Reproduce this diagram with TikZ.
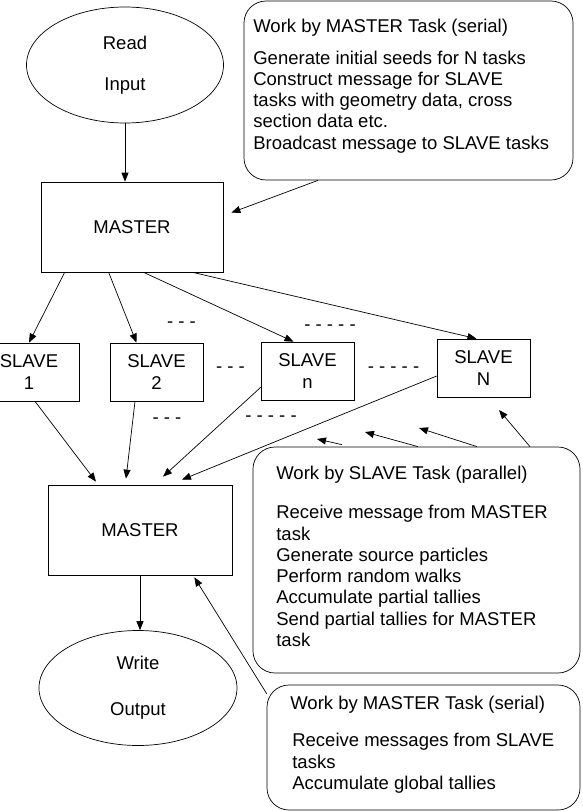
\documentclass[tikz,border=0pt]{standalone}
\usepackage{fontspec}
\setmainfont{Liberation Sans}
\usetikzlibrary{shapes.geometric,arrows.meta,calc}
\tikzset{
  flow io/.style={ellipse, draw, align=center, inner sep=0pt},
  flow task/.style={rectangle, draw, align=center, inner sep=0pt},
  flow note/.style={rectangle, draw, rounded corners=22pt, inner sep=0pt},
  flow notetext/.style={anchor=north west, align=left, inner sep=0pt},
  flow dots/.style={inner sep=0pt},
  flow arrow/.style={-{Triangle[length=9pt,width=7pt]}}
}

\begin{document}
\begin{tikzpicture}[x=1pt, y=-1pt, line width=0.7pt, font={\fontsize{18.5}{21.3}\selectfont}]
    \useasboundingbox (0,0) rectangle (582,811);

    % Input and first MASTER
    \node [flow io, minimum width=197pt, minimum height=116pt] (readin) at (125,65) {Read\\[19.5pt]Input};
    \node [flow task, minimum width=182pt, minimum height=90pt] (master1) at (132,227) {MASTER};
    \draw [flow arrow] (readin.south) -- (readin.south |- master1.north);

    % SLAVE tasks
    \node [flow task, minimum width=100pt, minimum height=58pt] (slave1) at (29,372) {SLAVE\\1};
    \node [flow task, minimum width=93pt, minimum height=58pt] (slave2) at (156.5,372) {SLAVE\\2};
    \node [flow task, minimum width=93pt, minimum height=58pt] (slaven) at (307.5,371) {SLAVE\\n};
    \node [flow task, minimum width=93pt, minimum height=58pt] (slaveN) at (483.5,368) {SLAVE\\N};
    \node [flow dots] (dotsa) at (181.5,325) {- - -};
    \node [flow dots] (dotsb) at (330,328) {- - - - -};
    \node [flow dots] (dotsc) at (230.5,370) {- - -};
    \node [flow dots] (dotsd) at (393.5,370) {- - - - -};
    \node [flow dots] (dotse) at (167,421) {- - -};
    \node [flow dots] (dotsf) at (271,419) {- - - - -};

    \draw [flow arrow] ([xshift=24pt]master1.south west) -- (slave1.north);
    \draw [flow arrow] ([xshift=68pt]master1.south west) -- ([xshift=-20pt]slave2.north);
    \draw [flow arrow] ([xshift=103pt]master1.south west) -- ([xshift=-14pt]slaven.north);
    \draw [flow arrow] ([xshift=152pt]master1.south west) -- ([xshift=-7pt]slaveN.north);

    % Second MASTER and output
    \node [flow task, minimum width=184pt, minimum height=90pt] (master2) at (140,530) {MASTER};
    \node [flow io, minimum width=198pt, minimum height=115pt] (writeout) at (138,688) {Write\\[24.5pt]Output};
    \draw [flow arrow] (master2.south) -- (master2.south |- writeout.north);

    \draw [flow arrow] ([xshift=6pt]slave1.south) -- ([xshift=-44pt,yshift=3pt]master2.north);
    \draw [flow arrow] ([xshift=-21.5pt]slave2.south) -- ([xshift=-14pt,yshift=6pt]master2.north);
    \draw [flow arrow] ([yshift=13pt]slaven.south west) -- ([xshift=23pt,yshift=8pt]master2.north);
    \draw [flow arrow] ([yshift=-8pt]slaveN.west) -- ([xshift=42pt,yshift=5pt]master2.north);

    % Work by MASTER (serial), top
    \node [flow note, minimum width=329pt, minimum height=179pt] (mtop) at (408.5,90.5) {};
    \node [flow notetext] (mtoptext) at (253,19) {Work by MASTER Task (serial)\\[10pt]
        Generate initial seeds for N tasks\\
        Construct message for SLAVE\\
        tasks with geometry data, cross\\
        section data etc.\\
        Broadcast message to SLAVE tasks};
    \draw [flow arrow] ([xshift=-90.5pt]mtop.south) -- ([xshift=8pt,yshift=-31pt]master1.north east);

    % Work by SLAVE (parallel)
    \node [flow note, minimum width=327pt, minimum height=226pt] (stask) at (416.5,560) {};
    \node [flow notetext] (stasktext) at (276,466) {Work by SLAVE Task (parallel)\\[17.7pt]
        Receive message from MASTER\\
        task\\
        Generate source particles\\
        Perform random walks\\
        Accumulate partial tallies\\
        Send partial tallies for MASTER\\
        task};
    \coordinate (sa) at (317,439);
    \coordinate (sb) at (365,432);
    \coordinate (sc) at (419,428);
    \coordinate (sd) at (499,410);
    \draw [flow arrow] ([xshift=-74.5pt,yshift=2pt]stask.north) -- (sa);
    \draw [flow arrow] ([xshift=1.5pt]stask.north) -- (sb);
    \draw [flow arrow] ([xshift=60.5pt]stask.north) -- (sc);
    \draw [flow arrow] ([xshift=113.5pt]stask.north) -- (sd);

    % Work by MASTER (serial), bottom
    \node [flow note, minimum width=313pt, minimum height=125pt] (mbot) at (423.5,747.5) {};
    \node [flow notetext] (mbottext) at (290,696) {Work by MASTER Task (serial)\\[15.7pt]
        \hspace*{2pt}Receive messages from SLAVE\\
        \hspace*{2pt}tasks\\
        \hspace*{2pt}Accumulate global tallies};
    \draw [flow arrow] ([yshift=-9pt]mbot.north west) -- ([xshift=-38pt,yshift=-2pt]master2.south east);
\end{tikzpicture}
\end{document}
